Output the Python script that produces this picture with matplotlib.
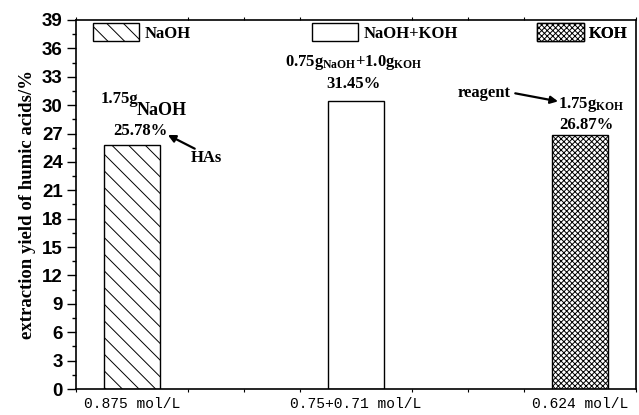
import matplotlib
matplotlib.use('Agg')
import matplotlib.pyplot as plt
from matplotlib.ticker import MultipleLocator
from matplotlib.patches import Patch

# data
positions = [1, 2, 3]
reagents = ['NaOH', 'NaOH+KOH', 'KOH']
yields = [25.78, 30.45, 26.87]
yield_labels = ['25.78%', '31.45%', '26.87%']
conc_labels = ['0.875 mol/L', '0.75+0.71 mol/L', '0.624 mol/L']
hatches = ['\\\\', '', 'xxxxxx']

serif = 'Liberation Serif'
matplotlib.rcParams.update({'mathtext.fontset': 'custom',
                            'mathtext.rm': 'Liberation Serif:bold',
                            'mathtext.bf': 'Liberation Serif:bold',
                            'mathtext.it': 'Liberation Serif:bold',
                            'hatch.linewidth': 0.7})

fig = plt.figure(figsize=(6.39, 4.15), dpi=100)
ax = fig.add_axes([76 / 639, 1 - 389 / 415, 560 / 639, 369 / 415])

bars = ax.bar(positions, yields, width=0.25, color='white',
              edgecolor='black', linewidth=1.0)
for b, h in zip(bars, hatches):
    b.set_hatch(h)

ax.set_xlim(0.75, 3.25)
ax.set_ylim(0, 39)
ax.yaxis.set_major_locator(MultipleLocator(3))
ax.yaxis.set_minor_locator(MultipleLocator(1.5))
ax.xaxis.set_minor_locator(MultipleLocator(0.25))
ax.set_xticks(positions)
ax.set_xticklabels(conc_labels, family='Liberation Mono', fontsize=10.5)
for t in ax.get_yticklabels():
    t.set_family('Liberation Sans')
    t.set_fontweight('bold')
    t.set_fontsize(13.5)

ax.tick_params(axis='y', which='major', length=6.5, width=1.0, pad=3)
ax.tick_params(axis='y', which='minor', length=3, width=1.0)
ax.tick_params(axis='x', which='major', length=0, pad=6)
ax.tick_params(axis='x', which='minor', length=2.5, width=0.8,
               top=True, bottom=True, direction='out')
for s in ax.spines.values():
    s.set_linewidth(1.2)

ax.set_ylabel('extraction yield of humic acids/%', family=serif,
              fontweight='bold', fontsize=13.5, labelpad=4)

# legend spread along the top
leg_x = [0.030, 0.421, 0.823]
for i in range(3):
    h = Patch(facecolor='white', edgecolor='black', hatch=hatches[i],
              linewidth=1.0)
    lg = ax.legend([h], [reagents[i]], loc='center left',
                   bbox_to_anchor=(leg_x[i], 0.966), frameon=False,
                   borderpad=0, borderaxespad=0, handlelength=2.8,
                   handleheight=1.2, handletextpad=0.3,
                   prop={'family': serif, 'weight': 'bold', 'size': 12})
    ax.add_artist(lg)

txt = dict(family=serif, fontweight='bold', fontsize=12)
arw = dict(arrowstyle='-|>', color='black', lw=1.6, mutation_scale=11,
           shrinkA=0, shrinkB=0)

# NaOH bar
ax.text(0.858, 30.7, '1.75g', ha='left', va='center', **txt)
ax.text(1.02, 29.4, 'NaOH', ha='left', va='center', family=serif,
        fontweight='bold', fontsize=13)
ax.text(1.036, 27.3, yield_labels[0], ha='center', va='center', **txt)
ax.annotate('', xy=(1.16, 26.85), xytext=(1.28, 25.4), arrowprops=arw)
ax.text(1.33, 24.4, 'HAs', ha='center', va='center', **txt)

# NaOH+KOH bar
ax.text(1.99, 34.5, r'$0.75g_{NaOH}$+$1.0g_{KOH}$', ha='center',
        va='center', **txt)
ax.text(1.99, 32.2, yield_labels[1], ha='center', va='center', **txt)

# KOH bar
ax.text(2.902, 30.1, r'$1.75g_{KOH}$', ha='left', va='center', **txt)
ax.text(3.027, 27.9, yield_labels[2], ha='center', va='center', **txt)
ax.text(2.573, 31.3, 'reagent', ha='center', va='center', **txt)
ax.annotate('', xy=(2.902, 30.4), xytext=(2.711, 31.25), arrowprops=arw)

fig.savefig('out.png', dpi=100)
